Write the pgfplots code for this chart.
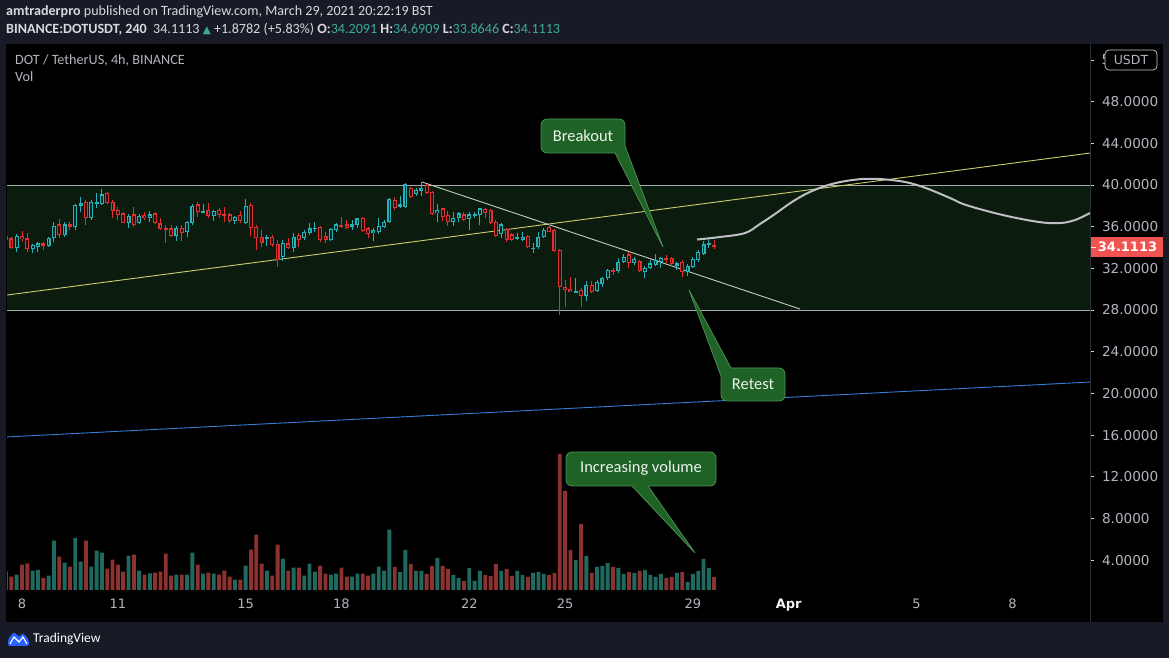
\documentclass[border=0pt]{standalone}
\usepackage{pgfplots}
\pgfplotsset{compat=1.18}
\usepackage{pgfplotstable}
\usepackage{fontspec}
\setmainfont{Carlito}
\newfontfamily\dejavu{DejaVu Sans}

\definecolor{hdr}{RGB}{24,27,37}
\definecolor{hdrtxt}{RGB}{215,217,222}
\definecolor{hdrteal}{RGB}{60,170,155}
\definecolor{tealc}{RGB}{38,178,186}
\definecolor{redc}{RGB}{226,48,48}
\definecolor{tealin}{RGB}{10,40,40}
\definecolor{redin}{RGB}{45,12,12}
\definecolor{tealv}{RGB}{32,105,95}
\definecolor{redv}{RGB}{140,50,48}
\definecolor{zone}{RGB}{11,28,15}
\definecolor{zoneline}{RGB}{165,170,175}
\definecolor{yel}{RGB}{205,205,110}
\definecolor{wline}{RGB}{200,205,190}
\definecolor{bline}{RGB}{55,125,215}
\definecolor{curvec}{RGB}{190,190,195}
\definecolor{callout}{RGB}{30,98,38}
\definecolor{calloutb}{RGB}{80,150,85}
\definecolor{axtxt}{RGB}{178,181,190}
\definecolor{pricered}{RGB}{240,83,80}
\definecolor{tvblue}{RGB}{41,98,255}
\definecolor{sep}{RGB}{42,46,57}

\pgfplotsset{candle/.style={only marks, mark=*, mark size=0pt,
  mark options={draw=none, fill=none}}}

% i = candle index (4h candles from Mar 7 12:00), o h l c, v = volume (relative)
\pgfplotstableread{
i o h l c v
2 33.98 35.26 33.54 35.10 15.3
5 33.86 34.34 33.44 34.24 19.3
6 34.08 34.56 33.54 34.40 20
8 34.18 35.04 34.08 34.94 14.3
9 34.94 36.48 34.50 36.10 49.3
11 35.20 36.42 35.04 36.22 27.3
13 36.00 38.14 35.68 38.08 52
14 38.02 38.88 37.44 38.24 28.3
16 36.86 38.56 36.64 38.40 23.3
17 38.24 39.20 37.76 38.34 39.3
18 38.14 39.62 38.08 39.10 37.3
23 36.32 37.18 35.84 37.06 34.3
25 36.32 37.18 36.22 37.06 19.3
27 36.80 37.50 36.42 37.18 16.7
32 35.14 36.10 34.62 35.90 15.3
34 35.46 36.54 35.04 36.42 15.3
35 36.32 38.14 36.16 38.02 37.3
37 37.38 38.14 37.28 37.44 16.3
39 37.06 37.60 36.54 37.50 16.3
43 36.54 37.06 36.22 36.96 10.3
45 36.32 38.66 36.22 38.02 24.3
49 34.88 35.20 34.18 35.04 19.3
52 33.09 34.72 32.74 34.43 31.3
54 33.98 35.36 33.54 35.04 22.3
56 34.88 35.68 34.72 35.52 14.3
57 35.36 36.32 35.20 35.84 26.3
58 35.78 36.42 35.52 35.90 18.3
61 34.72 35.90 34.62 35.78 15.3
62 35.68 36.32 35.52 36.22 16.3
65 36.00 36.64 35.68 36.22 13.3
66 36.16 36.86 35.90 36.80 16.3
69 35.36 35.84 34.62 35.68 16.3
70 35.52 36.80 35.26 36.10 23.3
71 36.00 36.64 35.90 36.48 19.3
72 36.42 38.72 36.32 38.66 60.3
74 37.92 38.98 37.82 38.14 18
75 37.92 40.16 37.82 40.06 40
77 39.10 39.68 38.98 39.52 19
78 39.42 40.26 38.98 39.74 19
81 37.28 38.14 36.42 37.60 32
84 36.48 37.44 36.10 36.86 15
85 36.86 37.44 36.42 37.28 12
87 36.70 37.38 35.68 37.18 22
88 37.12 37.38 36.86 37.18 9
89 37.12 37.82 36.16 37.76 19
93 35.26 36.32 34.88 36.22 19
96 34.88 35.36 34.72 35.01 19
97 34.72 35.46 34.62 35.04 15
99 33.92 34.40 33.44 33.98 17
100 34.08 35.52 33.86 35.04 18
101 35.04 35.84 34.94 35.68 16
107 29.70 31.04 29.60 29.82 30
109 29.38 30.78 28.86 30.40 34
111 29.82 30.88 29.70 30.66 23
112 30.46 31.20 30.24 31.10 24
113 31.10 31.94 30.88 31.84 27
115 31.74 32.96 31.52 32.58 22
116 32.58 33.34 32.48 33.12 16
118 32.48 33.12 32.32 32.90 17
120 31.68 32.26 31.10 32.06 20
121 32.00 32.80 31.94 32.48 15
122 32.32 33.34 32.26 32.80 13
123 32.58 33.12 32.06 33.02 16
126 32.26 32.64 31.84 32.48 17
128 31.68 32.38 31.30 32.26 8
129 32.16 33.12 32.06 32.90 16
130 32.80 33.76 32.64 33.54 19
131 33.34 34.62 33.28 34.30 31
132 34.24 34.82 33.92 34.40 22
}\tabUp

\pgfplotstableread{
i o h l c v
0 35.10 35.26 34.18 34.72 18.7
1 34.88 35.04 33.86 33.98 13.3
3 35.10 35.58 34.56 34.82 25.3
4 34.88 35.36 33.54 33.86 26.7
7 34.40 34.56 33.76 34.18 12
10 36.22 36.74 34.88 35.20 33.3
12 36.22 36.42 35.68 36.00 23.3
15 38.40 38.56 36.16 36.86 49.3
19 39.20 39.36 38.14 38.24 21.3
20 38.40 38.56 36.80 37.50 30.3
21 37.60 37.92 36.64 37.12 25.3
22 37.28 37.44 36.32 36.32 18.3
24 37.18 37.86 36.00 36.16 35.3
26 37.12 37.44 36.64 36.80 15.3
28 37.28 37.38 36.22 36.32 17.3
29 36.32 36.80 35.68 35.78 18.3
30 35.90 36.16 34.40 35.68 36.3
31 35.84 36.16 35.04 35.14 14.3
33 35.90 36.16 34.62 35.36 15.3
36 38.14 38.34 36.96 37.38 25.3
38 37.60 38.24 36.86 37.06 17.3
40 37.60 37.76 36.86 37.12 15.3
41 37.18 37.92 36.48 37.12 19.3
42 37.18 37.28 36.32 36.54 13.3
44 37.12 37.50 36.32 36.54 10.3
46 38.08 38.24 35.14 35.90 40.3
47 36.00 36.16 33.76 34.88 55.3
48 35.04 35.68 34.08 34.40 26.3
50 35.04 35.20 34.08 34.24 14.3
51 34.34 34.72 32.13 32.80 45.3
53 34.40 34.88 33.86 33.98 19.3
55 35.20 35.36 34.08 34.72 22.3
59 36.00 36.10 34.56 34.72 24.3
60 35.14 35.52 34.40 34.72 16.3
63 36.16 36.96 35.90 36.00 22.3
64 36.22 36.64 35.78 35.90 13.3
67 36.86 36.96 35.52 35.58 16.3
68 35.84 36.00 34.94 35.26 14.3
73 38.56 38.88 37.60 37.76 23
76 39.74 39.84 38.78 38.88 26
79 40.00 40.06 39.10 39.20 16
80 39.36 39.42 37.12 37.18 24
82 37.76 37.82 36.54 36.96 24
83 37.12 37.50 36.10 36.48 21
86 37.18 37.38 36.54 36.64 9
90 37.70 37.82 36.86 37.28 15
91 37.60 37.70 36.22 36.32 14
92 36.48 36.64 35.04 35.14 26
94 35.78 35.84 34.50 34.72 21
95 35.26 35.36 34.62 34.72 14
98 35.14 35.20 33.98 34.08 13
102 36.00 36.22 35.46 35.52 15
103 35.68 35.78 33.60 33.66 17
104 33.76 33.86 27.52 30.24 136
105 30.24 30.88 28.32 29.92 99
106 30.02 31.20 29.70 29.70 40
108 29.92 30.08 28.32 29.38 66
110 30.40 30.78 29.60 29.70 17
114 31.84 32.06 31.36 31.68 23
117 33.34 33.54 32.00 32.48 18
119 32.70 32.80 31.68 31.74 19
124 32.96 33.28 32.48 32.80 12
125 33.02 33.12 32.26 32.38 13
127 32.64 32.80 31.20 31.68 18
133 34.2091 34.6909 33.8646 34.1113 13
}\tabDn

\begin{document}
\begin{tikzpicture}
% background panels (pixel coordinates, y downwards)
\begin{scope}[x=1pt,y=-1pt,shift={(0pt,658pt)}]
\fill[hdr] (0,0) rectangle (1169,658);
\fill[black] (6,44) rectangle (1163,622);
\end{scope}

% ---------- volume (behind) ----------
\begin{axis}[at={(7pt,68pt)}, anchor=south west, scale only axis,
  width=1083pt, height=545pt, xmin=7.53, xmax=41.43, ymin=0, ymax=545,
  hide axis, clip=true]
\addplot[ybar, bar width=3.9pt, bar shift=0pt, fill=tealv, draw=none]
  table[x expr=7.5+\thisrow{i}/6, y=v] {\tabUp};
\addplot[ybar, bar width=3.9pt, bar shift=0pt, fill=redv, draw=none]
  table[x expr=7.5+\thisrow{i}/6, y=v] {\tabDn};
\end{axis}

% ---------- price ----------
\begin{axis}[at={(7pt,68pt)}, anchor=south west, scale only axis,
  width=1083pt, height=545pt, xmin=7.53, xmax=41.43, ymin=1.13, ymax=53.44,
  axis line style={draw=none},
  ytick={4,8,...,48}, yticklabel pos=right, ytick pos=right,
  extra y ticks={52}, extra y tick labels={},
  xtick={8,11,15,18,22,25,29,32,36,39},
  xticklabels={8,11,15,18,22,25,29,\textbf{\color{white!85!axtxt}Apr},5,8},
  xtick pos=bottom, xtick style={draw=none},
  ytick style={draw=axtxt!60, line width=0.6pt},
  extra y tick style={tick style={draw=axtxt!60, line width=0.6pt}},
  tick align=outside, major tick length=4pt,
  /pgf/number format/assume math mode=true,
  scaled y ticks=false,
  yticklabel style={/pgf/number format/fixed, /pgf/number format/fixed zerofill,
     /pgf/number format/precision=4, anchor=west, xshift=4.5pt,
     font=\dejavu\fontsize{13.6}{15}\selectfont, text=axtxt},
  xticklabel style={font=\dejavu\fontsize{13}{15}\selectfont, text=axtxt, yshift=-1pt},
  clip=true]
% trading range zone
\fill[zone] (axis cs:7.4,28) rectangle (axis cs:41.5,40);
\addplot[zoneline, line width=0.8pt] coordinates {(7.53,40) (41.43,40)};
\addplot[zoneline, line width=0.8pt] coordinates {(7.53,28) (41.43,28)};
% trend lines
\addplot[bline, line width=0.9pt] coordinates {(7.53,15.82) (41.43,21.09)};
\addplot[yel, line width=0.9pt] coordinates {(7.53,29.44) (41.43,43.07)};
\addplot[wline, line width=0.9pt] coordinates {(20.52,40.29) (32.35,28.10)};
% projected path
\addplot[curvec, line width=2pt, smooth, tension=0.6] coordinates {
 (29.13,34.77) (29.85,35.01) (30.63,35.39) (31.10,36.26) (31.57,37.22)
 (32.10,38.37) (32.66,39.33) (33.35,40.10) (34.13,40.53) (34.82,40.58)
 (35.64,40.29) (36.29,39.71) (37.05,38.75) (37.55,38.08) (38.70,37.12)
 (39.83,36.45) (40.49,36.35) (40.96,36.64) (41.43,37.31)};
% wicks
\addplot[tealc, candle, error bars/.cd, y dir=plus, y explicit,
  error mark=none, error bar style={line width=1pt, tealc}]
  table[x expr=7.5+\thisrow{i}/6, y=l, y error expr=\thisrow{h}-\thisrow{l}] {\tabUp};
\addplot[redc, candle, error bars/.cd, y dir=plus, y explicit,
  error mark=none, error bar style={line width=1pt, redc}]
  table[x expr=7.5+\thisrow{i}/6, y=l, y error expr=\thisrow{h}-\thisrow{l}] {\tabDn};
% bodies
\addplot[tealc, candle, error bars/.cd, y dir=both, y explicit,
  error mark=none, error bar style={line width=4pt, tealc}]
  table[x expr=7.5+\thisrow{i}/6, y expr={(\thisrow{o}+\thisrow{c})/2},
        y error expr={max(abs(\thisrow{c}-\thisrow{o})/2,0.05)}] {\tabUp};
\addplot[redc, candle, error bars/.cd, y dir=both, y explicit,
  error mark=none, error bar style={line width=4pt, redc}]
  table[x expr=7.5+\thisrow{i}/6, y expr={(\thisrow{o}+\thisrow{c})/2},
        y error expr={max(abs(\thisrow{c}-\thisrow{o})/2,0.05)}] {\tabDn};
\addplot[tealin, candle, error bars/.cd, y dir=both, y explicit,
  error mark=none, error bar style={line width=1.7pt, tealin}]
  table[x expr=7.5+\thisrow{i}/6, y expr={(\thisrow{o}+\thisrow{c})/2},
        y error expr={max(abs(\thisrow{c}-\thisrow{o})/2-0.11,0)}] {\tabUp};
\addplot[redin, candle, error bars/.cd, y dir=both, y explicit,
  error mark=none, error bar style={line width=1.7pt, redin}]
  table[x expr=7.5+\thisrow{i}/6, y expr={(\thisrow{o}+\thisrow{c})/2},
        y error expr={max(abs(\thisrow{c}-\thisrow{o})/2-0.11,0)}] {\tabDn};
\end{axis}

% ---------- overlays in pixel coordinates ----------
\begin{scope}[x=1pt,y=-1pt,shift={(0pt,658pt)}]
\draw[sep, line width=0.8pt] (1090,44) -- (1090,622);
% header
\node[anchor=west, inner sep=0, text=hdrtxt, font=\fontsize{14.1}{16}\selectfont] at (6,12)
 {\textbf{amtraderpro} published on TradingView.com, March 29, 2021 20:22:19 BST};
\node[anchor=west, inner sep=0, text=hdrtxt, font=\fontsize{14.1}{16}\selectfont] at (6,29)
 {\textbf{BINANCE:DOTUSDT, 240}\ \ 34.1113 {\color{hdrteal}\dejavu\fontsize{10.5}{12}\selectfont ▲} +1.8782 (+5.83\%)\ \textbf{O:}{\color{hdrteal}34.2091}\ \textbf{H:}{\color{hdrteal}34.6909}\ \textbf{L:}{\color{hdrteal}33.8646}\ \textbf{C:}{\color{hdrteal}34.1113}};
% legend
\node[anchor=west, inner sep=0, text=axtxt, font=\fontsize{14.2}{16}\selectfont] at (15,60) {DOT / TetherUS, 4h, BINANCE};
\node[anchor=west, inner sep=0, text=axtxt, font=\fontsize{14.2}{16}\selectfont] at (15,77) {Vol};
% hidden 52 label peeking out of the currency box
\node[anchor=west, inner sep=0, text=axtxt, font=\dejavu\fontsize{13.6}{15}\selectfont] at (1101.5,60) {5};
% USDT box
\filldraw[fill=black, draw=axtxt!70, rounded corners=4pt, line width=0.7pt] (1105,50) rectangle (1157,70);
\node[text=axtxt, inner sep=0, font=\dejavu\fontsize{12.5}{14}\selectfont] at (1131,60) {USDT};
% last price tag
\fill[pricered] (1091,237) rectangle (1163,257);
\draw[white!80!pricered, line width=0.8pt] (1091,247) -- (1096,247);
\node[text=white, inner sep=0, font=\dejavu\bfseries\fontsize{13}{15}\selectfont] at (1127.5,247) {34.1113};
% callouts
\filldraw[fill=callout, draw=calloutb, line width=0.7pt] (541,136) [rounded corners=6pt] -- (541,119) -- (625,119) -- (625,140) [sharp corners] -- (625,146) -- (663,247) -- (615,153) -- (600,153) [rounded corners=6pt] -- (541,153) -- cycle;
\node[text=white!92!callout, font=\fontsize{16.5}{18}\selectfont] at (583,136) {Breakout};
\filldraw[fill=callout, draw=calloutb, line width=0.7pt] (753,401) [rounded corners=6pt] -- (721,401) -- (721,385) [sharp corners] -- (721,376) -- (689,290) -- (731,368) -- (740,368) [rounded corners=6pt] -- (785,368) -- (785,401) -- cycle;
\node[text=white!92!callout, font=\fontsize{16.5}{18}\selectfont] at (753,384.5) {Retest};
\filldraw[fill=callout, draw=calloutb, line width=0.7pt] (566,469) [rounded corners=6pt] -- (566,452) -- (716,452) -- (716,486) -- (660,486) [sharp corners] -- (648,486) -- (695,553) -- (632,486) -- (620,486) [rounded corners=6pt] -- (566,486) -- cycle;
\node[text=white!92!callout, font=\fontsize{16.5}{18}\selectfont] at (641,468.5) {Increasing volume};
% footer logo
\fill[tvblue, rounded corners=2pt] (8,646) -- (8,639) -- (14,632) -- (19,637) -- (23,633) -- (29,640) -- (29,646) -- cycle;
\draw[white, line width=1.1pt] (10,644) -- (14,637) -- (19,642) -- (23,637) -- (27,644);
\node[anchor=west, inner sep=0, text=white, font=\fontsize{13.5}{15}\selectfont] at (33,639) {TradingView};
\end{scope}
\end{tikzpicture}
\end{document}
